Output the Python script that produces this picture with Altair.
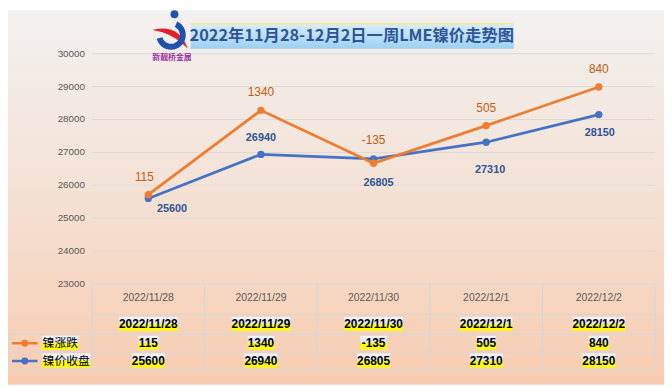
import altair as alt
import pandas as pd

# ---------------- data ----------------
dates = ["2022/11/28", "2022/11/29", "2022/11/30", "2022/12/1", "2022/12/2"]
change = [115, 1340, -135, 505, 840]
close = [25600, 26940, 26805, 27310, 28150]
y_ticks = [23000, 24000, 25000, 26000, 27000, 28000, 29000, 30000]
series_names = ["镍涨跌", "镍价收盘"]
title_text = "2022年11月28-12月2日一周LME镍价走势图"
logo_text = "新靓桥金属"

# ---------------- layout / style ----------------
W, H = 570, 233
PAD = {"left": 85, "top": 44, "right": 9, "bottom": 102}
ORANGE, BLUE = "#ed7d31", "#4472c4"
LAT = "Liberation Sans"
CJK = "Noto Sans CJK SC"
GRID = "#d9d9d9"
TABLE_LINE = "#d3d6db"
BAND = W / len(dates)

df = pd.DataFrame({"idx": list(range(len(dates))), "date": dates,
                   "change": change, "close": close})
one = pd.DataFrame({"a": [0]})
ticks_df = pd.DataFrame({"v": y_ticks})

xs = alt.Scale(domain=[-0.5, len(dates) - 0.5], nice=False, zero=False)
ys = alt.Scale(domain=[y_ticks[0], y_ticks[-1]], nice=False, zero=False)
X = alt.X("idx:Q", scale=xs, axis=None)


def grad(stops, horizontal=False):
    return alt.Gradient(
        gradient="linear",
        stops=[alt.GradientStop(color=c, offset=o) for o, c in stops],
        x1=0, y1=0, x2=1 if horizontal else 0, y2=0 if horizontal else 1,
    )


HL = grad([(0, "#f3f5f9"), (0.45, "#dde5ef"), (0.58, "#ffff00"), (1, "#ffff00")])

layers = []

# background
layers.append(alt.Chart(one).mark_rect(
    fill=grad([(0, "#f2f1f0"), (0.45, "#f4e3d7"), (1, "#f8ccb0")])
).encode(x=alt.value(-PAD["left"]), x2=alt.value(W + PAD["right"]),
         y=alt.value(-PAD["top"]), y2=alt.value(H + PAD["bottom"])))

# gridlines
layers.append(alt.Chart(ticks_df).mark_rule(color=GRID, strokeWidth=1).encode(
    y=alt.Y("v:Q", scale=ys, axis=None), x=alt.value(0), x2=alt.value(W)))
# y tick labels
layers.append(alt.Chart(ticks_df).mark_text(
    font=LAT, fontSize=10, color="#595959", align="right", baseline="middle"
).encode(y=alt.Y("v:Q", scale=ys, axis=None), x=alt.value(-7), text="v:N"))

# table lines
bounds = pd.DataFrame({"b": [i - 0.5 for i in range(len(dates) + 1)]})
layers.append(alt.Chart(bounds).mark_rule(color=TABLE_LINE, strokeWidth=1).encode(
    x=alt.X("b:Q", scale=xs, axis=None), y=alt.value(H), y2=alt.value(H + 87)))


def hrule(y, x0, x1):
    return alt.Chart(one).mark_rule(color=TABLE_LINE, strokeWidth=1).encode(
        x=alt.value(x0), x2=alt.value(x1), y=alt.value(y))


layers.append(hrule(H + 31, 0, W))
for yy in (H + 51, H + 69, H + 87):
    layers.append(hrule(yy, -84, W))
layers.append(alt.Chart(one).mark_rule(color=TABLE_LINE, strokeWidth=1).encode(
    x=alt.value(-84), y=alt.value(H + 51), y2=alt.value(H + 87)))

# category labels (axis row)
layers.append(alt.Chart(df).mark_text(
    font=LAT, fontSize=10.5, color="#595959", baseline="middle"
).encode(x=X, y=alt.value(H + 14), text="date:N"))


def table_row(expr, yc):
    base = alt.Chart(df).transform_calculate(t=expr).transform_calculate(
        hw="(6.5*length(datum.t) - 3.3*(length(datum.t) - length(replace(datum.t, regexp('/', 'g'), ''))) + 1) / 2 / %f" % BAND
    ).transform_calculate(x1="datum.idx - datum.hw", x2="datum.idx + datum.hw")
    hl = base.mark_rect(fill=HL).encode(
        x=alt.X("x1:Q", scale=xs, axis=None), x2="x2:Q",
        y=alt.value(yc - 7.5), y2=alt.value(yc + 6.5))
    tx = base.mark_text(font=LAT, fontSize=12, fontWeight="bold", color="#000000",
                        baseline="middle").encode(x=X, y=alt.value(yc), text="t:N")
    return [hl, tx]


layers += table_row("datum.date", H + 41)
layers += table_row("'' + datum.change", H + 60)
layers += table_row("'' + datum.close", H + 78)

# legend in table
for name, col, yc in ((series_names[0], ORANGE, H + 60), (series_names[1], BLUE, H + 78)):
    layers.append(alt.Chart(one).mark_rule(color=col, strokeWidth=2.5).encode(
        x=alt.value(-81), x2=alt.value(-55), y=alt.value(yc)))
    layers.append(alt.Chart(one).mark_point(filled=True, opacity=1, color=col, size=50).encode(
        x=alt.value(-68), y=alt.value(yc)))
    layers.append(alt.Chart(one).mark_rect(fill=HL).encode(
        x=alt.value(-50.7), x2=alt.value(-50.7 + 12 * len(name) + 1),
        y=alt.value(yc - 7.5), y2=alt.value(yc + 6.5)))
    layers.append(alt.Chart(one).mark_text(
        text=name, font=CJK, fontSize=12, color="#000000", align="left", baseline="middle"
    ).encode(x=alt.value(-50), y=alt.value(yc)))

# blue series
layers.append(alt.Chart(df).mark_line(color=BLUE, strokeWidth=2.75).encode(
    x=X, y=alt.Y("close:Q", scale=ys, axis=None)))
layers.append(alt.Chart(df).mark_point(filled=True, opacity=1, color=BLUE, size=55).encode(
    x=X, y=alt.Y("close:Q", scale=ys, axis=None)))

# orange series (stacked on top of close)
top = alt.Chart(df).transform_calculate(top="datum.close + datum.change",
                                        ct="'' + datum.change", bt="'' + datum.close")
layers.append(top.mark_line(color=ORANGE, strokeWidth=2.75).encode(
    x=X, y=alt.Y("top:Q", scale=ys, axis=None)))
layers.append(top.mark_point(filled=True, opacity=1, color=ORANGE, size=55).encode(
    x=X, y=alt.Y("top:Q", scale=ys, axis=None)))

# data labels
blue_off = {"2022/11/28": (24, 11), "2022/11/29": (0, -17), "2022/11/30": (5, 25),
            "2022/12/1": (4, 28), "2022/12/2": (1, 19)}
orange_off = {"2022/11/28": (-4, -18), "2022/11/29": (0, -18), "2022/11/30": (0, -23),
              "2022/12/1": (0, -18), "2022/12/2": (0, -18)}
for d in dates:
    dx, dy = blue_off[d]
    layers.append(top.transform_filter(alt.datum.date == d).mark_text(
        font=LAT, fontSize=11, fontWeight="bold", color="#2f5597", dx=dx, dy=dy, baseline="middle"
    ).encode(x=X, y=alt.Y("close:Q", scale=ys, axis=None), text="bt:N"))
    dx, dy = orange_off[d]
    layers.append(top.transform_filter(alt.datum.date == d).mark_text(
        font=LAT, fontSize=12, color="#c55a11", dx=dx, dy=dy, baseline="middle"
    ).encode(x=X, y=alt.Y("top:Q", scale=ys, axis=None), text="ct:N"))

# title box
layers.append(alt.Chart(one).mark_rect(
    fill=grad([(0, "#d8edfa"), (1, "#9bd0f1")])
).encode(x=alt.value(100), x2=alt.value(427), y=alt.value(-30), y2=alt.value(-5)))
layers.append(alt.Chart(one).mark_rule(color="#fbe59c", strokeWidth=2).encode(
    x=alt.value(100), x2=alt.value(427), y=alt.value(-30.5)))
layers.append(alt.Chart(one).mark_text(
    text=title_text, font=CJK, fontSize=16.5, fontWeight="bold", color="#2f5597",
    baseline="middle", align="center"
).encode(x=alt.value(263), y=alt.value(-17.5)))

# logo
red_path = "M-0.95,-0.1 Q0.4,-0.45 0.85,0.85 Q0.1,0.05 -0.95,-0.1 Z"
blue_path = ("M0.315,-0.53 A0.75,0.75 0 1 1 -0.725,0.345 L-0.435,0.265 "
             "A0.45,0.45 0 1 0 0.19,-0.26 Z")
layers.append(alt.Chart(one).mark_point(shape=red_path, filled=True, opacity=1,
                                        color="#e2202b", size=1600).encode(
    x=alt.value(80), y=alt.value(-22)))
layers.append(alt.Chart(one).mark_point(shape=blue_path, filled=True, opacity=1,
                                        color="#1d52ad", size=1600).encode(
    x=alt.value(80), y=alt.value(-22)))
layers.append(alt.Chart(one).mark_point(shape="circle", filled=True, opacity=1,
                                        color="#1d52ad", size=64).encode(
    x=alt.value(83.5), y=alt.value(-40)))
layers.append(alt.Chart(one).mark_text(
    text=logo_text, font=CJK, fontSize=8, fontWeight="bold", color="#9b2f9f",
    baseline="middle", align="center"
).encode(x=alt.value(81), y=alt.value(4)))

chart = alt.layer(*layers).properties(
    width=W, height=H, padding=PAD, autosize=alt.AutoSizeParams(type="none")
).configure_view(stroke=None)

chart.save("out.html", embed_options={"renderer": "svg", "actions": False})
